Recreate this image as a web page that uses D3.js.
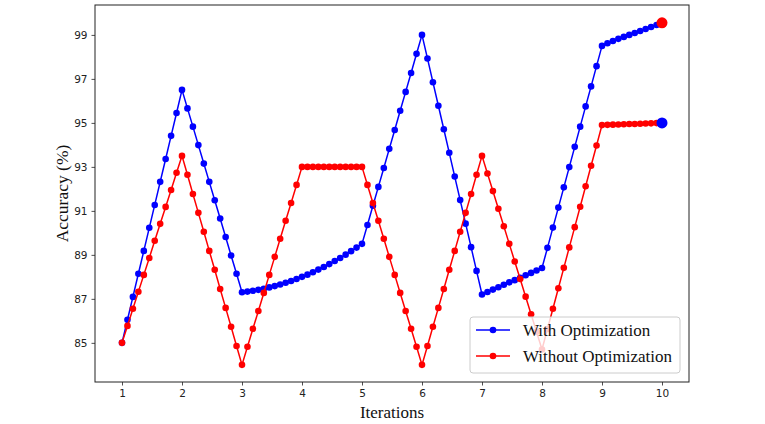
<!DOCTYPE html>
<html>
<head>
<meta charset="utf-8">
<script src="https://cdn.jsdelivr.net/npm/d3@7"></script>
<style>
  body { margin: 0; background: #fff; }
  svg { display: block; }
</style>
</head>
<body>
<div id="chart"></div>
<script>
// 100 iterations sampled between 1 and 10 (11 steps per unit)
var withOpt = [
  85.0, 86.05, 87.09, 88.14, 89.18, 90.23, 91.27, 92.32, 93.36, 94.41, 95.45, 96.5,
  95.66, 94.83, 93.99, 93.15, 92.32, 91.48, 90.65, 89.81, 88.97, 88.14, 87.3,
  87.33, 87.37, 87.41, 87.46, 87.52, 87.58, 87.65, 87.73, 87.81, 87.9, 88.0,
  88.1, 88.21, 88.33, 88.45, 88.58, 88.72, 88.86, 89.01, 89.17, 89.33, 89.5,
  90.36, 91.23, 92.09, 92.95, 93.82, 94.68, 95.55, 96.41, 97.27, 98.14, 99.0,
  97.93, 96.85, 95.78, 94.71, 93.64, 92.56, 91.49, 90.42, 89.35, 88.27, 87.2,
  87.31, 87.42, 87.53, 87.64, 87.75, 87.85, 87.96, 88.07, 88.18, 88.29, 88.4,
  89.32, 90.24, 91.15, 92.07, 92.99, 93.91, 94.83, 95.75, 96.66, 97.58, 98.5,
  98.62, 98.72, 98.82, 98.91, 99.0, 99.09, 99.18, 99.27, 99.36, 99.45, 99.53
];

var withoutOpt = [
  85.0, 85.77, 86.55, 87.32, 88.09, 88.86, 89.64, 90.41, 91.18, 91.95, 92.73, 93.5,
  92.64, 91.77, 90.91, 90.05, 89.18, 88.32, 87.45, 86.59, 85.73, 84.86, 84.0,
  84.82, 85.64, 86.45, 87.27, 88.09, 88.91, 89.73, 90.55, 91.36, 92.18, 93.0,
  93.0, 93.0, 93.0, 93.0, 93.0, 93.0, 93.0, 93.0, 93.0, 93.0, 93.0,
  92.18, 91.36, 90.55, 89.73, 88.91, 88.09, 87.27, 86.45, 85.64, 84.82, 84.0,
  84.86, 85.73, 86.59, 87.45, 88.32, 89.18, 90.05, 90.91, 91.77, 92.64, 93.5,
  92.7, 91.9, 91.1, 90.3, 89.5, 88.7, 87.9, 87.1, 86.3, 85.5, 84.7,
  85.63, 86.55, 87.48, 88.41, 89.34, 90.26, 91.19, 92.12, 93.05, 93.97, 94.9,
  94.91, 94.92, 94.93, 94.94, 94.95, 94.95, 94.96, 94.97, 94.98, 94.99, 95.0
];

// final-value markers drawn at the last iteration
var endMarks = [
  { x: 10, y: 99.55, color: "#ff0000" },
  { x: 10, y: 95.0, color: "#0000ff" }
];

var xTicks = [1, 2, 3, 4, 5, 6, 7, 8, 9, 10];
var yTicks = [85, 87, 89, 91, 93, 95, 97, 99];

var series = [
  { name: "With Optimization", color: "#0000ff", values: withOpt },
  { name: "Without Optimization", color: "#ff0000", values: withoutOpt }
];

var width = 765, height = 424;
var margin = { top: 5, right: 76, bottom: 42, left: 95 };
var serif = "Liberation Serif, Times New Roman, serif";

var svg = d3.select("#chart")
    .append("svg")
    .attr("width", width)
    .attr("height", height);

var x = d3.scaleLinear()
    .domain([0.55, 10.45])
    .range([margin.left, width - margin.right]);

var y = d3.scaleLinear()
    .domain([83.22, 100.36])
    .range([height - margin.bottom, margin.top]);

// x position of sample i (evenly spaced from 1 to 10)
function xAt(i, n) {
  return 1 + 9 * i / (n - 1);
}

var line = d3.line()
    .x(function(d, i, arr){ return x(xAt(i, arr.length)); })
    .y(function(d){ return y(d); });

var xAxis = svg.append("g")
    .attr("transform", "translate(0," + (height - margin.bottom) + ")")
    .call(d3.axisBottom(x).tickValues(xTicks).tickSize(3.5).tickPadding(4));

var yAxis = svg.append("g")
    .attr("transform", "translate(" + margin.left + ",0)")
    .call(d3.axisLeft(y).tickValues(yTicks).tickSize(3.5).tickPadding(4));

[xAxis, yAxis].forEach(function(g){
  g.select(".domain").remove();
  g.selectAll("text")
    .attr("font-family", "DejaVu Sans, sans-serif")
    .attr("font-size", 10.5)
    .attr("fill", "#222");
  g.selectAll("line").attr("stroke", "#222").attr("stroke-width", 0.8);
});

// frame
svg.append("rect")
    .attr("x", margin.left)
    .attr("y", margin.top)
    .attr("width", width - margin.left - margin.right)
    .attr("height", height - margin.top - margin.bottom)
    .attr("fill", "none")
    .attr("stroke", "#222")
    .attr("stroke-width", 1);

series.forEach(function(s){
  var g = svg.append("g");
  g.append("path")
    .datum(s.values)
    .attr("d", line)
    .attr("fill", "none")
    .attr("stroke", s.color)
    .attr("stroke-width", 1.5);

  g.selectAll("circle")
    .data(s.values)
    .enter()
    .append("circle")
    .attr("cx", function(d, i){ return x(xAt(i, s.values.length)); })
    .attr("cy", function(d){ return y(d); })
    .attr("r", 3.3)
    .attr("fill", s.color);
});

svg.selectAll("circle.end")
    .data(endMarks)
    .enter()
    .append("circle")
    .attr("class", "end")
    .attr("cx", function(d){ return x(d.x); })
    .attr("cy", function(d){ return y(d.y); })
    .attr("r", 5.5)
    .attr("fill", function(d){ return d.color; });

// axis labels
svg.append("text")
    .attr("x", (margin.left + width - margin.right) / 2)
    .attr("y", 418)
    .attr("text-anchor", "middle")
    .attr("font-family", serif)
    .attr("font-size", 17)
    .attr("fill", "#111")
    .text("Iterations");

svg.append("text")
    .attr("transform", "translate(68," + ((margin.top + height - margin.bottom) / 2) + ") rotate(-90)")
    .attr("text-anchor", "middle")
    .attr("font-family", serif)
    .attr("font-size", 17.5)
    .attr("fill", "#111")
    .text("Accuracy (%)");

// legend
var legend = svg.append("g").attr("transform", "translate(470,317)");

legend.append("rect")
    .attr("width", 210)
    .attr("height", 56)
    .attr("rx", 3)
    .attr("fill", "#fff")
    .attr("fill-opacity", 0.8)
    .attr("stroke", "#ccc")
    .attr("stroke-width", 1);

var items = legend.selectAll("g.item")
    .data(series)
    .enter()
    .append("g")
    .attr("class", "item")
    .attr("transform", function(d, i){ return "translate(0," + (13 + i * 26) + ")"; });

items.append("line")
    .attr("x1", 6).attr("x2", 40)
    .attr("stroke", function(d){ return d.color; })
    .attr("stroke-width", 1.5);

items.append("circle")
    .attr("cx", 23)
    .attr("r", 3.3)
    .attr("fill", function(d){ return d.color; });

items.append("text")
    .attr("x", 53)
    .attr("dy", "0.35em")
    .attr("font-family", serif)
    .attr("font-size", 17)
    .attr("fill", "#111")
    .text(function(d){ return d.name; });
</script>
</body>
</html>
